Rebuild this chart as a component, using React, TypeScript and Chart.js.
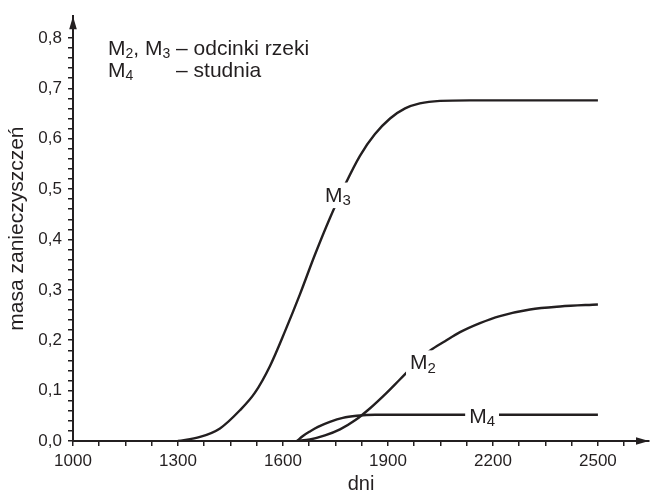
import React, { useEffect, useRef } from 'react';
import { Chart, registerables } from 'chart.js';

Chart.register(...registerables);

// ---- data ----
const m3X = [1300, 1363, 1420, 1477, 1520, 1563, 1606, 1649, 1691, 1734, 1777, 1820, 1863, 1906, 1949, 1991, 2049, 2134, 2500];
const m3Y = [0.0, 0.008, 0.025, 0.061, 0.096, 0.149, 0.218, 0.292, 0.369, 0.442, 0.508, 0.566, 0.609, 0.64, 0.66, 0.67, 0.675, 0.676, 0.676];

const m2X = [1640, 1677, 1720, 1763, 1806, 1849, 1891, 1934, 1977, 2020, 2063, 2106, 2163, 2220, 2306, 2392, 2500];
const m2Y = [0.0, 0.003, 0.011, 0.023, 0.041, 0.065, 0.092, 0.122, 0.152, 0.179, 0.198, 0.216, 0.234, 0.248, 0.261, 0.267, 0.271];

const m4X = [1640, 1657, 1677, 1700, 1734, 1771, 1811, 1863, 2500];
const m4Y = [0.0, 0.01, 0.019, 0.028, 0.038, 0.046, 0.05, 0.052, 0.052];

const xTickLabels = [1000, 1300, 1600, 1900, 2200, 2500];
const xMinorStep = 75;
const yTickLabels = [0, 0.1, 0.2, 0.3, 0.4, 0.5, 0.6, 0.7, 0.8];
const yMinorStep = 0.02;

// curve labels (data coordinates of label centre)
const labelSubs = ['3', '2', '4'];
const labelX = [1757, 2000, 2169];
const labelY = [0.49, 0.157, 0.051];

const legendLine1 = [
  { t: 'M' }, { t: '2', sub: true }, { t: ', M' }, { t: '3', sub: true }, { t: ' ' },
];
const legendDesc1 = '– odcinki rzeki';
const legendLine2 = [{ t: 'M' }, { t: '4', sub: true }];
const legendDesc2 = '– studnia';

const FONT = '"Liberation Sans", Arial, Helvetica, sans-serif';
const INK = '#231f20';

type Part = { t: string; sub?: boolean };

function partsWidth(ctx: CanvasRenderingContext2D, parts: Part[], size: number, subSize: number) {
  let w = 0;
  for (const p of parts) {
    ctx.font = `${p.sub ? subSize : size}px ${FONT}`;
    w += ctx.measureText(p.t).width;
  }
  return w;
}

function drawParts(ctx: CanvasRenderingContext2D, parts: Part[], x: number, y: number, size: number, subSize: number, drop: number) {
  let cx = x;
  for (const p of parts) {
    ctx.font = `${p.sub ? subSize : size}px ${FONT}`;
    ctx.fillText(p.t, cx, p.sub ? y + drop : y);
    cx += ctx.measureText(p.t).width;
  }
  return cx;
}

const decorPlugin = {
  id: 'decor',
  afterDatasetsDraw(chart: any) {
    const ctx: CanvasRenderingContext2D = chart.ctx;
    const xs = chart.scales.x;
    const ys = chart.scales.y;
    ctx.save();
    ctx.fillStyle = INK;
    ctx.textAlign = 'left';
    ctx.textBaseline = 'alphabetic';
    // curve labels with white knock-out
    const size = 21, subSize = 15, drop = 3.5;
    for (let i = 0; i < labelSubs.length; i++) {
      const parts: Part[] = [{ t: 'M' }, { t: labelSubs[i], sub: true }];
      const w = partsWidth(ctx, parts, size, subSize);
      const cx = xs.getPixelForValue(labelX[i]);
      const cy = ys.getPixelForValue(labelY[i]);
      const cap = size * 0.716;
      const left = cx - w / 2;
      const base = cy + cap / 2;
      ctx.fillStyle = '#fff';
      ctx.fillRect(left - 4, base - cap - 4, w + 8, cap + drop + 7);
      ctx.fillStyle = INK;
      drawParts(ctx, parts, left, base, size, subSize, drop);
    }
    // legend text
    const lx = chart.chartArea.left + 35;
    const lsize = 21, lsub = 14, ldrop = 3;
    const end1 = drawParts(ctx, legendLine1, lx, 55, lsize, lsub, ldrop);
    ctx.font = `${lsize}px ${FONT}`;
    ctx.fillText(legendDesc1, end1, 55);
    drawParts(ctx, legendLine2, lx, 77, lsize, lsub, ldrop);
    ctx.font = `${lsize}px ${FONT}`;
    ctx.fillText(legendDesc2, end1, 77);
    ctx.restore();
  },
  afterDraw(chart: any) {
    const ctx: CanvasRenderingContext2D = chart.ctx;
    const { left, top, right, bottom } = chart.chartArea;
    ctx.save();
    ctx.fillStyle = INK;
    ctx.beginPath();
    ctx.moveTo(left, top);
    ctx.lineTo(left - 3.8, top + 13);
    ctx.lineTo(left + 3.8, top + 13);
    ctx.closePath();
    ctx.fill();
    ctx.beginPath();
    ctx.moveTo(right, bottom);
    ctx.lineTo(right - 13, bottom - 3.8);
    ctx.lineTo(right - 13, bottom + 3.8);
    ctx.closePath();
    ctx.fill();
    ctx.restore();
  },
};

function toPoints(xs: number[], ys: number[]) {
  return xs.map((x, i) => ({ x, y: ys[i] }));
}

function stepTicks(from: number, to: number, step: number) {
  const out: { value: number }[] = [];
  const n = Math.floor((to - from) / step + 1e-9);
  for (let i = 0; i <= n; i++) out.push({ value: +(from + i * step).toFixed(6) });
  return out;
}

export default function App() {
  const ref = useRef<HTMLCanvasElement>(null);
  useEffect(() => {
    if (!ref.current) return;
    const ds = (data: { x: number; y: number }[]) => ({
      data,
      borderColor: INK,
      borderWidth: 2.4,
      pointRadius: 0,
      fill: false,
      cubicInterpolationMode: 'monotone' as const,
      tension: 0.4,
    });
    const xMin = xTickLabels[0];
    const xMax = 2646;
    const yMax = 0.843;
    const chart = new Chart(ref.current, {
      type: 'line',
      data: {
        datasets: [ds(toPoints(m3X, m3Y)), ds(toPoints(m2X, m2Y)), ds(toPoints(m4X, m4Y))],
      },
      options: {
        responsive: false,
        animation: false,
        layout: { padding: { top: 12, right: 1, left: 0, bottom: 0 } },
        plugins: { legend: { display: false }, tooltip: { enabled: false } },
        scales: {
          x: {
            type: 'linear',
            min: xMin,
            max: xMax,
            afterBuildTicks: (s: any) => {
              s.ticks = stepTicks(xMin, xMax - 20, xMinorStep);
            },
            afterFit: (s: any) => {
              s.height = 54;
            },
            ticks: {
              autoSkip: false,
              maxRotation: 0,
              padding: 5,
              color: INK,
              font: { family: FONT, size: 17 },
              callback: (v: any) => {
                const n = Math.round(Number(v));
                return xTickLabels.includes(n) ? String(n) : '';
              },
            },
            grid: { drawOnChartArea: false, drawTicks: true, tickLength: 5, color: INK, lineWidth: 1.5 },
            border: { display: true, color: INK, width: 2 },
            title: { display: true, text: 'dni', color: INK, font: { family: FONT, size: 20 }, padding: { top: 0, bottom: -1 } },
          },
          y: {
            type: 'linear',
            min: 0,
            max: yMax,
            afterBuildTicks: (s: any) => {
              s.ticks = stepTicks(0, 0.8001, yMinorStep);
            },
            afterFit: (s: any) => {
              s.width = 73;
            },
            ticks: {
              autoSkip: false,
              padding: 6,
              color: INK,
              font: { family: FONT, size: 17 },
              callback: (v: any) => {
                const n = Number(v);
                const hit = yTickLabels.find((t) => Math.abs(t - n) < 1e-6);
                return hit === undefined ? '' : hit.toFixed(1).replace('.', ',');
              },
            },
            grid: { drawOnChartArea: false, drawTicks: true, tickLength: 5, color: INK, lineWidth: 1.5 },
            border: { display: true, color: INK, width: 2 },
            title: { display: true, text: 'masa zanieczyszczeń', color: INK, font: { family: FONT, size: 21 }, padding: { top: 5, bottom: 0 } },
          },
        },
      },
      plugins: [decorPlugin],
    });
    return () => chart.destroy();
  }, []);
  return (
    <div style={{ position: 'absolute', left: 0, top: 0, width: 650, height: 495, background: '#fff' }}>
      <canvas ref={ref} width={650} height={495} style={{ display: 'block' }} />
    </div>
  );
}
